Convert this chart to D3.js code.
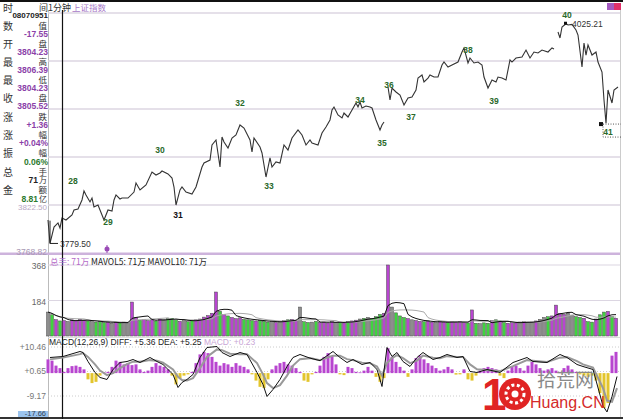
<!DOCTYPE html>
<html><head><meta charset="utf-8">
<script src="https://cdn.jsdelivr.net/npm/d3@7"></script>
<style>body{margin:0;background:#fff;overflow:hidden}svg{display:block}</style>
</head><body>
<script>
// ---------------- data ----------------
const infoLabels = [["时","间"],["数","值"],["开","盘"],["最","高"],["最","低"],["收","盘"],["涨","跌"],["涨","幅"],["振","幅"],["总","手"],["金","额"]];
const infoValues = ["08070951","-17.55","3804.23","3806.39","3804.23","3805.52","+1.36","+0.04%","0.06%","71","8.81"];
const infoUnits  = ["","","","","","","","","","万","亿"];
const titleText = "1分钟";
const indexName = "上证指数";
const priceTicks = [3768.82, 3822.50, 3876.18, 3929.86, 3983.54, 4037.22];
const priceTickLabels = ["3768.82", "3822.50"];
const volTicks = [184, 368];
const macdTicks = [10.46, 0.65, -9.17];
const macdBottom = -17.66;

const priceMin = [0,1,3,5,6,7,9,12,13,15,17,18,19,21,22,23,25,27,28,30,32,33,34,36,37,40,43,44,46,49,52,54,56,57,60,62,63,64,66,67,69,72,74,77,78,81,82,84,86,87,88,90,92,94,96,98,101,102,103,106,107,109,111,112,114,116,118,120,122,125,127,129,131,132,135,137,139,141,142,143,145,147,148,150,152,154,155,156,157,159,161,162,164,166,167,168,169,170,171,172,174,176,178,180,182,184,185,187,188,190,191,193,195,197,198,200,202,205,207,208,210,211,213,215,217,218,220,222,224,225,227,229,231,232,234,237,239,241,243,245,247,250,252,253,254,255,256,257,259,260,262,264,265,267,268,269,270,272,274,275,277,278,279,280,282,283,285];
const priceVal = [3805.7,3779.5,3797.9,3802.4,3796.8,3808.0,3805.7,3811.3,3816.9,3818.0,3828.1,3838.2,3833.7,3825.9,3830.3,3820.3,3822.5,3811.3,3805.7,3816.9,3815.8,3828.1,3833.7,3829.2,3830.3,3830.3,3837.0,3847.1,3839.3,3844.9,3859.4,3856.0,3858.3,3860.5,3857.2,3852.7,3842.6,3822.5,3839.3,3842.6,3837.0,3834.8,3842.6,3865.0,3869.5,3872.8,3889.6,3895.2,3865.0,3898.5,3893.0,3886.2,3897.4,3900.8,3912.0,3908.6,3895.2,3881.8,3897.4,3887.4,3880.7,3853.8,3875.1,3865.0,3870.6,3869.5,3889.6,3884.0,3897.4,3906.4,3900.8,3889.6,3895.2,3891.8,3889.6,3903.0,3909.7,3917.6,3928.7,3932.1,3923.2,3919.8,3925.4,3920.9,3928.7,3936.6,3932.1,3937.7,3931.0,3933.2,3932.1,3931.0,3917.6,3906.4,3912.0,3915.3,null,3954.5,3939.9,3953.3,3948.9,3945.5,3934.3,3942.2,3943.3,3951.1,3964.5,3967.9,3960.1,3964.5,3967.9,3965.6,3965.6,3979.1,3982.4,3976.8,3979.1,3982.4,3993.6,3998.1,3981.3,3986.9,3981.3,3982.4,3979.1,3965.6,3953.3,3962.3,3960.1,3965.6,3964.5,3962.3,3984.7,3982.4,3986.9,3988.0,3995.8,3986.9,3993.6,3992.5,3995.8,3993.6,3998.1,3997.0,null,4016.0,4009.3,4021.6,4025.2,4023.8,4024.5,4018.2,4012.6,3976.8,4003.7,3990.2,4001.4,3990.2,3993.6,3982.4,3971.2,3939.9,3914.0,3951.1,3936.6,3951.1,3954.5];

const waveLabels = ["28","29","30","31","32","33","34","35","36","37","38","39","40","41"];
const waveMin    = [12.5,30,56,65,96,110.5,156,167,170.5,181.5,210,223,259.5,280];
const waveVal    = [3849.3,3803.5,3884.0,3811.3,3936.6,3843.7,3939.9,3891.8,3956.7,3920.9,3995.8,3938.8,4035.0,3904.1];

const highVal = 4025.21, highMin = 259;
const lowVal = 3779.50, lowMin = 1;

const volume = [124,110,85,78,80,75,84,80,86,82,78,74,72,76,70,72,66,70,68,72,70,176,95,82,86,80,84,78,88,84,90,92,86,76,80,74,82,84,88,98,106,118,228,128,112,104,96,90,94,86,84,80,78,82,76,72,74,70,76,80,84,86,82,150,74,70,72,76,70,72,68,74,70,72,68,74,78,82,88,92,96,90,100,112,118,368,150,120,104,96,90,84,80,76,74,78,72,70,74,72,70,74,72,76,70,68,135,66,64,68,66,80,84,78,70,66,70,68,72,74,70,72,78,86,96,100,104,160,116,112,118,108,100,96,92,74,72,88,110,124,128,100,92];

const macdMin = [1,7.5,16,17.5,20,23.5,26,29.5,32.5,36,39.5,42.5,46,51,54.5,57.5,62.5,65,67,69.5,72.5,76,79.5,84.5,87,91,96,99.5,104.5,107.5,109.5,112.5,116,119.5,122.5,126,131,136,142.5,146,149.5,152.5,157,161,164.5,167,169.5,172,174.5,177.5,181,184.5,187.5,192.5,196,199.5,204.5,207.5,211,214.5,219.5,226,232.5,239.5,242.5,249.5,256,259.5,264.5,267.5,272.5,277.5,279.5,282,284.5];
const diff = [6.25,6.65,8.66,8.26,4.65,0.25,-1.75,-2.55,1.45,4.25,4.65,5.45,4.25,6.25,4.65,3.45,-0.55,-5.76,-3.75,-2.55,-0.55,6.25,10.26,10.66,8.26,6.65,8.26,7.46,0.25,-4.56,-9.36,-6.56,-2.55,2.65,6.25,7.46,6.0,5.0,8.66,6.25,4.25,5.45,3.45,4.25,1.45,-5.36,10.26,6.65,8.26,4.65,2.65,6.25,8.26,5.45,6.25,7.46,6.25,6.65,0.65,0.25,1.45,0.25,4.25,6.25,4.65,4.25,7.46,6.25,3.45,2.65,1.45,-13.16,-15.57,-9.36,-1.35];
const dea = [5.5,6.2,7.6,8.0,6.5,3.5,1.0,-0.8,0.0,2.0,3.6,4.6,4.6,5.2,5.0,4.2,1.5,-1.5,-2.8,-3.0,-2.0,2.0,6.5,9.5,9.2,7.8,7.6,7.6,4.0,-0.5,-4.0,-6.0,-4.8,-1.0,3.0,5.6,6.0,5.2,7.0,7.0,5.6,5.2,4.2,4.0,2.6,-1.0,4.0,6.0,7.2,6.0,4.0,5.0,7.0,6.2,6.0,6.8,6.5,6.5,3.5,1.5,1.2,0.8,2.8,5.2,5.0,4.5,6.2,6.4,4.8,3.5,2.2,-6.0,-11.0,-11.5,-6.0];
const macdHist = [5.5,5.0,3.0,2.0,0.5,2.0,2.8,3.0,2.5,1.5,-2.5,-4.0,-3.5,-1.0,0.3,0.5,2.5,5.0,4.5,3.5,4.0,3.2,3.5,1.5,0.5,1.0,2.5,4.0,3.0,2.5,1.5,-1.0,-4.5,-2.0,-1.0,-0.5,0.5,4.0,7.5,8.5,8.0,6.5,4.5,3.0,4.0,3.5,2.5,4.0,3.0,2.5,1.5,-0.5,-3.0,-5.5,-6.0,-2.5,1.5,3.0,4.0,4.5,3.5,3.0,2.0,0.5,-3.0,-3.5,-0.5,0.5,3.0,6.5,8.0,7.0,3.5,-0.5,-0.8,2.5,2.0,0.5,0.3,1.0,2.5,1.0,-1.5,-3.5,-2.0,10.0,6.5,4.5,2.5,1.0,-1.5,1.5,6.0,7.0,5.5,4.0,3.0,2.0,1.0,1.5,2.5,1.5,-0.6,-0.5,1.5,-2.5,-3.0,-1.0,1.0,2.0,2.5,2.0,1.5,-1.0,-2.0,1.0,2.5,3.0,2.0,1.0,3.0,4.5,3.5,2.0,1.0,1.5,2.0,1.0,0.5,2.0,3.0,1.5,0.5,-0.5,-1.0,-1.5,-1.0,-3.0,-8.0,-14.0,-12.0,7.0,8.5];

// ---------------- drawing ----------------
const W = 623, H = 419;
const svg = d3.select("body").append("svg").attr("width", W).attr("height", H);
const numFont = "Liberation Sans, Arial, sans-serif";
const cjkFont = "Noto Sans CJK SC, sans-serif";
const purple = "#8b3fa8";

const x = d3.scaleLinear().domain([0, 286]).range([48, 620]);
const yP = d3.scaleLinear().domain([priceTicks[0], priceTicks[5]]).range([253, 13]);
const yV = d3.scaleLinear().domain([0, 368]).range([336, 265]);
const yM = d3.scaleLinear().domain([-9.17, 10.46]).range([396, 347]);

// frame lines
svg.append("rect").attr("x",0).attr("y",0).attr("width",W).attr("height",2).attr("fill","#111");
svg.append("line").attr("x1",48.5).attr("x2",48.5).attr("y1",10).attr("y2",H).attr("stroke","#bbb");
svg.append("line").attr("x1",620.5).attr("x2",620.5).attr("y1",10).attr("y2",H).attr("stroke","#ccc");

// price grid
priceTicks.slice(1).forEach(v => {
  svg.append("line").attr("x1",48).attr("x2",620).attr("y1",yP(v)).attr("y2",yP(v))
    .attr("stroke","#dcd6e2").attr("stroke-width",1.5);
});
// pane separators
svg.append("rect").attr("x",0).attr("y",252.5).attr("width",620).attr("height",2.5).attr("fill","#cdb3dc");
svg.append("line").attr("x1",48).attr("x2",620).attr("y1",337.5).attr("y2",337.5).attr("stroke","#ddd");
// volume grid
volTicks.forEach(v => {
  svg.append("line").attr("x1",48).attr("x2",620).attr("y1",yV(v)).attr("y2",yV(v))
    .attr("stroke","#dcd6e2").attr("stroke-width",1.2);
});
// macd grid
macdTicks.forEach(v => {
  svg.append("line").attr("x1",48).attr("x2",620).attr("y1",yM(v)).attr("y2",yM(v))
    .attr("stroke","#ccc").attr("stroke-dasharray","1,2");
});
svg.append("rect").attr("x",0).attr("y",417).attr("width",W).attr("height",2).attr("fill","#333");

// left info panel
const labY = [7,25,43,61,79,97.5,116,134,152.5,171,189];
infoLabels.forEach((pair, i) => {
  svg.append("text").attr("x",3).attr("y",labY[i]).attr("dominant-baseline","central")
    .attr("font-family",cjkFont).attr("font-size",10).attr("fill","#333").text(pair[0]);
  if (i > 0) svg.append("text").attr("x",47).attr("y",labY[i] - 0.5).attr("dominant-baseline","central")
    .attr("text-anchor","end").attr("font-family",cjkFont).attr("font-size",8.5).attr("fill","#333").text(pair[1]);
});
svg.append("text").attr("x",39).attr("y",7).attr("dominant-baseline","central")
  .attr("font-family",cjkFont).attr("font-size",9).attr("fill","#333").text(infoLabels[0][1] + titleText);
svg.append("text").attr("x",72).attr("y",7).attr("dominant-baseline","central")
  .attr("font-family",cjkFont).attr("font-size",8.5).attr("fill","#a777c7").text(indexName);

const valY = [15.5,33.5,52,70,88,106,124.5,143,161.5,180,198.5];
infoValues.forEach((v, i) => {
  let col = purple;
  if (i === 0 || i === 9) col = "#222";
  if (i === 8 || i === 10) col = "#2d7a2d";
  const hasUnit = infoUnits[i] !== "";
  svg.append("text").attr("x", hasUnit ? 38 : 48).attr("y",valY[i]).attr("dominant-baseline","central")
    .attr("text-anchor","end").attr("font-family",numFont).attr("font-weight","bold")
    .attr("font-size", i === 0 ? 8 : 8.5).attr("fill",col).text(v);
  if (hasUnit) svg.append("text").attr("x",47).attr("y",valY[i] - 0.5).attr("dominant-baseline","central")
    .attr("text-anchor","end").attr("font-family",cjkFont).attr("font-size",8).attr("fill","#333").text(infoUnits[i]);
});

// axis labels in left panel
svg.append("text").attr("x",47).attr("y",yP(priceTicks[1]) + 2).attr("dominant-baseline","central").attr("text-anchor","end")
  .attr("font-family",numFont).attr("font-size",8).attr("fill","#b9a8c4").text(priceTickLabels[1]);
svg.append("text").attr("x",47).attr("y",yP(priceTicks[0]) - 1).attr("dominant-baseline","central").attr("text-anchor","end")
  .attr("font-family",numFont).attr("font-size",8.5).attr("fill","#a898b4").text(priceTickLabels[0]);
volTicks.forEach(v => {
  svg.append("text").attr("x",46).attr("y",yV(v) + 1).attr("dominant-baseline","central").attr("text-anchor","end")
    .attr("font-family",numFont).attr("font-size",8.5).attr("fill","#666").text(String(v));
});
macdTicks.forEach(v => {
  svg.append("text").attr("x",46).attr("y",yM(v)).attr("dominant-baseline","central").attr("text-anchor","end")
    .attr("font-family",numFont).attr("font-size",8.5).attr("fill","#777").text((v > 0 ? "+" : "") + v.toFixed(2));
});
svg.append("rect").attr("x",18).attr("y",411).attr("width",30).attr("height",6).attr("fill","#9cc4ee");
svg.append("text").attr("x",46).attr("y",413.5).attr("dominant-baseline","central").attr("text-anchor","end")
  .attr("font-family",numFont).attr("font-size",7.5).attr("fill","#345").text(macdBottom.toFixed(2));

// price line
const pts = priceMin.map((t, i) => [t, priceVal[i]]);
const line = d3.line().defined(d => d[1] !== null).x(d => x(d[0])).y(d => yP(d[1]));
svg.append("path").datum(pts).attr("d", line).attr("fill","none").attr("stroke","#333").attr("stroke-width",1.1);

// low / high annotations
svg.append("path").attr("d", `M${x(lowMin)},${yP(3805)}V${yP(lowVal)}H${x(lowMin)+8}`).attr("fill","none").attr("stroke","#222");
svg.append("text").attr("x",x(lowMin)+10).attr("y",yP(lowVal)+1).attr("dominant-baseline","central")
  .attr("font-family",numFont).attr("font-size",8.5).attr("fill","#333").text(lowVal.toFixed(2));
svg.append("rect").attr("x",x(highMin)-2).attr("y",yP(highVal)-2).attr("width",3).attr("height",3).attr("fill","#111");
svg.append("text").attr("x",x(highMin)+6).attr("y",yP(highVal)).attr("dominant-baseline","central")
  .attr("font-family",numFont).attr("font-size",8.5).attr("fill","#333").text(highVal.toFixed(2));

// wave labels
waveLabels.forEach((lab, i) => {
  svg.append("text").attr("x",x(waveMin[i])).attr("y",yP(waveVal[i])).attr("text-anchor","middle")
    .attr("dominant-baseline","central").attr("font-family",numFont).attr("font-weight","bold")
    .attr("font-size",8.5).attr("fill", lab === "31" ? "#111" : "#2a6a2a").text(lab);
});
// 41 marker and dotted box
const m41x = x(waveMin[13]) - 7, m41y = yP(3913);
svg.append("rect").attr("x",m41x-2).attr("y",m41y-2).attr("width",4).attr("height",4).attr("fill","#111");
svg.append("path").attr("d",`M${m41x+2},${m41y}H621M${m41x+2},${m41y}V${m41y+13}H621`)
  .attr("fill","none").attr("stroke","#555").attr("stroke-dasharray","1,1.5");

// cursor line and marker
svg.append("line").attr("x1",62.5).attr("x2",62.5).attr("y1",10).attr("y2",H).attr("stroke","#111").attr("stroke-width",1.2);
svg.append("circle").attr("cx",107).attr("cy",249).attr("r",2.5).attr("fill","#9a4ab6");
svg.append("line").attr("x1",107).attr("x2",107).attr("y1",245).attr("y2",253).attr("stroke","#9a4ab6");

// volume bars
const clean = pts.filter(d => d[1] !== null);
function priceAt(t) {
  for (let i = 1; i < clean.length; i++) {
    if (clean[i][0] >= t) {
      const a = clean[i-1], b = clean[i];
      return a[1] + (b[1]-a[1]) * (t - a[0]) / (b[0] - a[0]);
    }
  }
  return clean[clean.length-1][1];
}
const volData = volume.map((v, i) => {
  const t = i * 2;
  const ch = priceAt(t) - priceAt(Math.max(0, t - 2));
  return {t, v, ch};
});
svg.append("g").selectAll("rect").data(volData).join("rect")
  .attr("x", d => x(d.t) - 1.5).attr("width", 3)
  .attr("y", d => yV(d.v)).attr("height", d => yV(0) - yV(d.v))
  .attr("fill", d => Math.abs(d.ch) < 1.2 ? "#8d8d8d" : (d.ch > 0 ? "#b845d0" : "#3fd43f"))
  .attr("stroke", "#4a4a4a").attr("stroke-width", 0.5);
function ma(n) {
  return volume.map((v, i) => {
    const s = volume.slice(Math.max(0, i - n + 1), i + 1);
    return [i * 2, d3.mean(s)];
  });
}
const vline = d3.line().x(d => x(d[0])).y(d => yV(d[1]));
svg.append("path").datum(ma(10)).attr("d", vline).attr("fill","none").attr("stroke","#aaa").attr("stroke-width",1);
svg.append("path").datum(ma(5)).attr("d", vline).attr("fill","none").attr("stroke","#111").attr("stroke-width",1);

// volume header
const vh = svg.append("text").attr("x",50).attr("y",260.5).attr("dominant-baseline","central")
  .attr("font-family",cjkFont).attr("font-size",8.5);
vh.append("tspan").attr("fill","#b46ac8").text("总手: 71万 ");
vh.append("tspan").attr("fill","#222").text("MAVOL5: 71万 MAVOL10: 71万");

// MACD histogram
svg.append("g").selectAll("rect").data(macdHist).join("rect")
  .attr("x", (d, i) => x(i * 2) - 1.5).attr("width", 3)
  .attr("y", d => Math.min(yM(d), yM(0))).attr("height", d => Math.abs(yM(d) - yM(0)))
  .attr("fill", d => d >= 0 ? "#b845d0" : "#e3c52c");
const mline = d3.line().x(d => x(d[0])).y(d => yM(d[1]));
svg.append("path").datum(macdMin.map((t, i) => [t, dea[i]])).attr("d", mline)
  .attr("fill","none").attr("stroke","#999").attr("stroke-width",2);
svg.append("path").datum(macdMin.map((t, i) => [t, diff[i]])).attr("d", mline)
  .attr("fill","none").attr("stroke","#111").attr("stroke-width",1);

// MACD header
const mh = svg.append("text").attr("x",49).attr("y",341.5).attr("dominant-baseline","central")
  .attr("font-family",numFont).attr("font-size",8.5);
mh.append("tspan").attr("fill","#222").text("MACD(12,26,9) DIFF: +5.36 DEA: +5.25 ");
mh.append("tspan").attr("fill","#c9a6d6").text("MACD: +0.23");

// top-right icons
svg.append("rect").attr("x",607).attr("y",3).attr("width",7).attr("height",7).attr("fill","#a35ac0");
svg.append("rect").attr("x",614).attr("y",3).attr("width",7).attr("height",7).attr("fill","#e0306a");

// watermark
const wm = svg.append("g");
wm.append("text").attr("x",482).attr("y",410).attr("font-family",numFont).attr("font-weight","bold")
  .attr("font-size",44).attr("fill","#e02424").text("1");
wm.append("circle").attr("cx",515).attr("cy",394).attr("r",16).attr("fill","#e02424");
wm.append("circle").attr("cx",515).attr("cy",394).attr("r",9).attr("fill","none").attr("stroke","#fff").attr("stroke-width",3).attr("stroke-dasharray","3,2.5");
wm.append("circle").attr("cx",515).attr("cy",394).attr("r",3.5).attr("fill","#fff");
wm.append("text").attr("x",537).attr("y",387).attr("font-family",cjkFont).attr("font-size",19).attr("fill","#8a8a8a").text("拾荒网");
wm.append("text").attr("x",530).attr("y",408).attr("font-family",numFont).attr("font-size",16).attr("fill","#d42a2a").text("Huang.CN");
</script>
</body></html>
